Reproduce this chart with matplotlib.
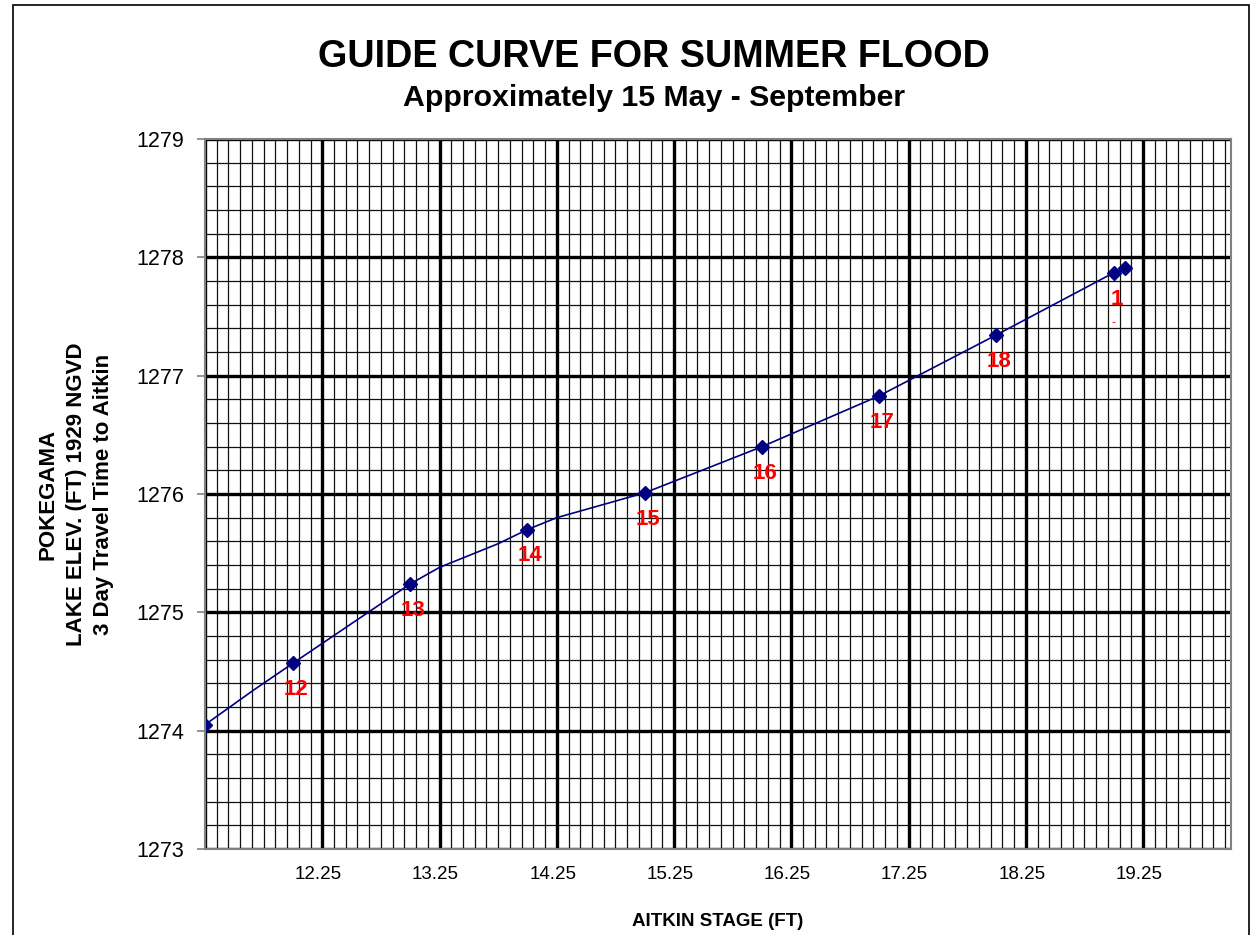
import numpy as np
import matplotlib
matplotlib.use('Agg')
from matplotlib import pyplot as plt
from matplotlib.patches import Rectangle
from matplotlib.transforms import ScaledTranslation

plt.rcParams['font.family'] = ['Liberation Sans', 'DejaVu Sans']

# points with markers (Aitkin stage, Pokegama elevation)
stage = [11.25, 12, 13, 14, 15, 16, 17, 18, 19, 19.1]
elev = [1274.05, 1274.57, 1275.24, 1275.70, 1276.01, 1276.40, 1276.83, 1277.345, 1277.87, 1277.91]
point_labels = ['', '12', '13', '14', '15', '16', '17', '18', '1', '']

# curve (passes through the points)
curve_x = [11.25, 11.66, 12, 13, 13.25, 13.5, 13.75, 14, 14.25, 15, 16, 17, 18, 19, 19.1]
curve_y = [1274.05, 1274.34, 1274.57, 1275.24, 1275.38, 1275.48, 1275.58, 1275.70, 1275.80,
           1276.01, 1276.40, 1276.83, 1277.345, 1277.87, 1277.91]

xticks = [12.25, 13.25, 14.25, 15.25, 16.25, 17.25, 18.25, 19.25]
yticks = [1273, 1274, 1275, 1276, 1277, 1278, 1279]

fig = plt.figure(figsize=(12.51, 9.35), dpi=100)
ax = fig.add_axes([0.1639, 0.092, 0.984 - 0.1639, 0.8513 - 0.092])

# outer chart border
fig.patches.append(Rectangle((13 / 1251, -0.01), (1249 - 13) / 1251, 1 - 5 / 935 + 0.01,
                             transform=fig.transFigure, fill=False, edgecolor='black', lw=1.2))

ax.set_xlim(11.25, 20.0)
ax.set_ylim(1273, 1279)

# graph paper grid
for v in np.arange(11.25, 20.0, 0.1):
    ax.axvline(v, color='#111111', lw=0.9, zorder=1)
for v in np.arange(1273, 1279, 0.2):
    ax.axhline(v, color='#111111', lw=0.9, zorder=1)
for v in [11.25] + xticks:
    ax.axvline(v, color='black', lw=2.4, zorder=2)
for v in yticks:
    ax.axhline(v, color='black', lw=2.4, zorder=2)

ax.plot(curve_x, curve_y, color='#000080', lw=1.2, zorder=4)
ax.plot(stage, elev, linestyle='none', marker='D', markersize=7, color='#000080', zorder=5)

for x, y, t in zip(stage, elev, point_labels):
    if t:
        ax.annotate(t, (x, y), xytext=(2, -19), textcoords='offset points',
                    ha='center', va='center', color='#ff0000', fontsize=16, fontweight='bold', zorder=6)
# clipped remains of the "19" label
ax.annotate('-', (stage[8], elev[8]), xytext=(0, -36), textcoords='offset points',
            ha='center', va='center', color='#ff0000', fontsize=9, zorder=6)

ax.set_xticks(xticks)
ax.set_xticklabels([f'{v:.2f}' for v in xticks])
ax.set_yticks(yticks)
ax.tick_params(axis='x', length=0, pad=12, labelsize=13.5)
ax.tick_params(axis='y', length=6, width=1.2, color='#808080', pad=9, labelsize=15.5)
shift = ScaledTranslation(-4 / 100, 0, fig.dpi_scale_trans)
for lab in ax.get_xticklabels():
    lab.set_transform(lab.get_transform() + shift)

for s in ax.spines.values():
    s.set_color('#808080')
    s.set_linewidth(1.5)
    s.set_zorder(7)

ax.set_xlabel('AITKIN STAGE (FT)', fontsize=13.5, fontweight='bold', labelpad=22)
fig.text(0.0608, 0.4717, 'POKEGAMA\nLAKE ELEV. (FT) 1929 NGVD\n3 Day Travel Time to Aitkin',
         rotation=90, ha='center', va='center', fontsize=16, fontweight='bold', linespacing=1.43)

fig.text(0.5228, 1 - 57 / 935, 'GUIDE CURVE FOR SUMMER FLOOD', ha='center', va='center',
         fontsize=27.2, fontweight='bold')
fig.text(0.5228, 1 - 98 / 935, 'Approximately 15 May - September', ha='center', va='center',
         fontsize=21.8, fontweight='bold')

fig.savefig('out.png', dpi=100)
